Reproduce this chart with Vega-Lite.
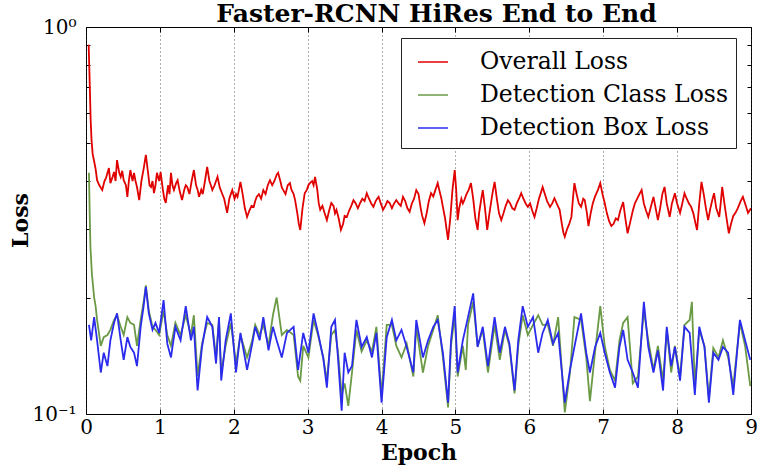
{
  "$schema": "https://vega.github.io/schema/vega-lite/v6.json",
  "width": 665,
  "height": 387,
  "autosize": {"type": "none"},
  "padding": {"left": 86, "top": 27, "right": 6, "bottom": 54},
  "background": "white",
  "title": {"text": "Faster-RCNN HiRes End to End", "font": "DejaVu Serif", "fontSize": 25, "fontWeight": "bold", "color": "black", "offset": -10, "anchor": "middle", "dx": 18},
  "config": {
    "view": {"stroke": "black", "strokeWidth": 1},
    "axis": {"labelFont": "DejaVu Serif", "labelFontSize": 20, "labelColor": "black", "titleFont": "DejaVu Serif", "titleFontSize": 22, "titleFontWeight": "bold", "titleColor": "black", "domain": false, "tickColor": "black", "tickWidth": 1}
  },
  "datasets": {
    "overall": [
      {"e":0.036,"v":0.9},{"e":0.045,"v":0.78},{"e":0.055,"v":0.66},{"e":0.063,"v":0.575},{"e":0.075,"v":0.51},{"e":0.09,"v":0.47},{"e":0.11,"v":0.45},{"e":0.13,"v":0.43},{"e":0.15,"v":0.402},{"e":0.18,"v":0.39},{"e":0.22,"v":0.379},{"e":0.25,"v":0.4},{"e":0.27,"v":0.407},{"e":0.31,"v":0.432},{"e":0.33,"v":0.395},{"e":0.36,"v":0.41},{"e":0.38,"v":0.422},{"e":0.4,"v":0.4},{"e":0.42,"v":0.453},{"e":0.45,"v":0.42},{"e":0.47,"v":0.41},{"e":0.49,"v":0.425},{"e":0.51,"v":0.402},{"e":0.54,"v":0.39},{"e":0.56,"v":0.364},{"e":0.58,"v":0.4},{"e":0.6,"v":0.427},{"e":0.63,"v":0.4},{"e":0.65,"v":0.42},{"e":0.67,"v":0.4},{"e":0.69,"v":0.386},{"e":0.72,"v":0.357},{"e":0.75,"v":0.4},{"e":0.78,"v":0.43},{"e":0.81,"v":0.467},{"e":0.84,"v":0.42},{"e":0.86,"v":0.39},{"e":0.88,"v":0.386},{"e":0.9,"v":0.4},{"e":0.92,"v":0.372},{"e":0.94,"v":0.39},{"e":0.96,"v":0.42},{"e":0.99,"v":0.4},{"e":1.01,"v":0.422},{"e":1.04,"v":0.38},{"e":1.06,"v":0.36},{"e":1.08,"v":0.351},{"e":1.11,"v":0.39},{"e":1.13,"v":0.37},{"e":1.15,"v":0.42},{"e":1.17,"v":0.39},{"e":1.19,"v":0.379},{"e":1.22,"v":0.395},{"e":1.24,"v":0.402},{"e":1.27,"v":0.375},{"e":1.3,"v":0.357},{"e":1.33,"v":0.38},{"e":1.35,"v":0.39},{"e":1.37,"v":0.386},{"e":1.4,"v":0.37},{"e":1.43,"v":0.4},{"e":1.46,"v":0.427},{"e":1.49,"v":0.39},{"e":1.51,"v":0.38},{"e":1.53,"v":0.364},{"e":1.56,"v":0.38},{"e":1.58,"v":0.37},{"e":1.61,"v":0.4},{"e":1.64,"v":0.435},{"e":1.67,"v":0.4},{"e":1.69,"v":0.39},{"e":1.71,"v":0.379},{"e":1.74,"v":0.39},{"e":1.76,"v":0.4},{"e":1.78,"v":0.41},{"e":1.81,"v":0.385},{"e":1.84,"v":0.372},{"e":1.87,"v":0.36},{"e":1.89,"v":0.345},{"e":1.91,"v":0.331},{"e":1.94,"v":0.36},{"e":1.96,"v":0.37},{"e":1.98,"v":0.379},{"e":2.01,"v":0.36},{"e":2.03,"v":0.37},{"e":2.05,"v":0.364},{"e":2.07,"v":0.38},{"e":2.09,"v":0.398},{"e":2.12,"v":0.37},{"e":2.15,"v":0.34},{"e":2.18,"v":0.323},{"e":2.21,"v":0.335},{"e":2.24,"v":0.345},{"e":2.27,"v":0.343},{"e":2.29,"v":0.355},{"e":2.31,"v":0.364},{"e":2.34,"v":0.37},{"e":2.37,"v":0.36},{"e":2.4,"v":0.379},{"e":2.43,"v":0.37},{"e":2.46,"v":0.39},{"e":2.49,"v":0.402},{"e":2.52,"v":0.39},{"e":2.55,"v":0.4},{"e":2.58,"v":0.415},{"e":2.6,"v":0.42},{"e":2.63,"v":0.4},{"e":2.65,"v":0.385},{"e":2.67,"v":0.379},{"e":2.7,"v":0.37},{"e":2.73,"v":0.39},{"e":2.76,"v":0.395},{"e":2.78,"v":0.38},{"e":2.81,"v":0.37},{"e":2.83,"v":0.357},{"e":2.86,"v":0.33},{"e":2.88,"v":0.31},{"e":2.9,"v":0.299},{"e":2.93,"v":0.34},{"e":2.96,"v":0.372},{"e":2.99,"v":0.38},{"e":3.01,"v":0.39},{"e":3.03,"v":0.395},{"e":3.06,"v":0.4},{"e":3.08,"v":0.39},{"e":3.1,"v":0.41},{"e":3.13,"v":0.38},{"e":3.15,"v":0.35},{"e":3.17,"v":0.337},{"e":3.2,"v":0.345},{"e":3.23,"v":0.33},{"e":3.26,"v":0.317},{"e":3.29,"v":0.335},{"e":3.32,"v":0.351},{"e":3.35,"v":0.345},{"e":3.37,"v":0.33},{"e":3.39,"v":0.337},{"e":3.42,"v":0.32},{"e":3.45,"v":0.299},{"e":3.48,"v":0.31},{"e":3.5,"v":0.325},{"e":3.53,"v":0.323},{"e":3.56,"v":0.335},{"e":3.59,"v":0.345},{"e":3.62,"v":0.357},{"e":3.65,"v":0.35},{"e":3.68,"v":0.34},{"e":3.71,"v":0.351},{"e":3.74,"v":0.36},{"e":3.77,"v":0.355},{"e":3.8,"v":0.372},{"e":3.83,"v":0.36},{"e":3.86,"v":0.35},{"e":3.89,"v":0.343},{"e":3.92,"v":0.355},{"e":3.94,"v":0.36},{"e":3.96,"v":0.364},{"e":3.99,"v":0.35},{"e":4.02,"v":0.337},{"e":4.05,"v":0.345},{"e":4.08,"v":0.355},{"e":4.11,"v":0.351},{"e":4.14,"v":0.34},{"e":4.17,"v":0.35},{"e":4.2,"v":0.357},{"e":4.23,"v":0.35},{"e":4.26,"v":0.345},{"e":4.29,"v":0.364},{"e":4.32,"v":0.355},{"e":4.35,"v":0.34},{"e":4.38,"v":0.333},{"e":4.41,"v":0.35},{"e":4.44,"v":0.36},{"e":4.47,"v":0.379},{"e":4.5,"v":0.37},{"e":4.53,"v":0.34},{"e":4.55,"v":0.325},{"e":4.58,"v":0.311},{"e":4.61,"v":0.33},{"e":4.64,"v":0.355},{"e":4.67,"v":0.372},{"e":4.7,"v":0.365},{"e":4.73,"v":0.38},{"e":4.76,"v":0.395},{"e":4.78,"v":0.38},{"e":4.81,"v":0.36},{"e":4.83,"v":0.343},{"e":4.86,"v":0.32},{"e":4.88,"v":0.3},{"e":4.9,"v":0.282},{"e":4.93,"v":0.32},{"e":4.96,"v":0.38},{"e":4.99,"v":0.427},{"e":5.01,"v":0.38},{"e":5.03,"v":0.317},{"e":5.05,"v":0.34},{"e":5.08,"v":0.36},{"e":5.1,"v":0.35},{"e":5.12,"v":0.357},{"e":5.15,"v":0.37},{"e":5.18,"v":0.38},{"e":5.21,"v":0.395},{"e":5.24,"v":0.36},{"e":5.27,"v":0.32},{"e":5.3,"v":0.299},{"e":5.32,"v":0.33},{"e":5.35,"v":0.36},{"e":5.37,"v":0.379},{"e":5.4,"v":0.34},{"e":5.43,"v":0.299},{"e":5.46,"v":0.33},{"e":5.49,"v":0.36},{"e":5.51,"v":0.38},{"e":5.53,"v":0.398},{"e":5.56,"v":0.36},{"e":5.59,"v":0.33},{"e":5.62,"v":0.317},{"e":5.65,"v":0.33},{"e":5.68,"v":0.345},{"e":5.71,"v":0.357},{"e":5.74,"v":0.35},{"e":5.77,"v":0.34},{"e":5.8,"v":0.337},{"e":5.83,"v":0.35},{"e":5.86,"v":0.36},{"e":5.89,"v":0.372},{"e":5.92,"v":0.36},{"e":5.95,"v":0.35},{"e":5.98,"v":0.343},{"e":6.01,"v":0.35},{"e":6.04,"v":0.335},{"e":6.07,"v":0.323},{"e":6.1,"v":0.34},{"e":6.13,"v":0.36},{"e":6.16,"v":0.375},{"e":6.18,"v":0.386},{"e":6.21,"v":0.37},{"e":6.24,"v":0.355},{"e":6.28,"v":0.343},{"e":6.31,"v":0.35},{"e":6.34,"v":0.361},{"e":6.37,"v":0.35},{"e":6.41,"v":0.337},{"e":6.44,"v":0.31},{"e":6.46,"v":0.295},{"e":6.48,"v":0.287},{"e":6.51,"v":0.3},{"e":6.54,"v":0.31},{"e":6.57,"v":0.323},{"e":6.59,"v":0.36},{"e":6.61,"v":0.395},{"e":6.64,"v":0.37},{"e":6.67,"v":0.35},{"e":6.7,"v":0.343},{"e":6.73,"v":0.36},{"e":6.75,"v":0.357},{"e":6.78,"v":0.33},{"e":6.8,"v":0.306},{"e":6.83,"v":0.33},{"e":6.86,"v":0.351},{"e":6.89,"v":0.365},{"e":6.93,"v":0.38},{"e":6.96,"v":0.395},{"e":6.99,"v":0.37},{"e":7.02,"v":0.351},{"e":7.05,"v":0.33},{"e":7.08,"v":0.315},{"e":7.11,"v":0.306},{"e":7.14,"v":0.31},{"e":7.17,"v":0.32},{"e":7.2,"v":0.317},{"e":7.23,"v":0.335},{"e":7.27,"v":0.353},{"e":7.3,"v":0.32},{"e":7.33,"v":0.293},{"e":7.36,"v":0.31},{"e":7.4,"v":0.335},{"e":7.43,"v":0.351},{"e":7.46,"v":0.36},{"e":7.49,"v":0.37},{"e":7.52,"v":0.379},{"e":7.55,"v":0.35},{"e":7.58,"v":0.335},{"e":7.61,"v":0.323},{"e":7.64,"v":0.34},{"e":7.68,"v":0.364},{"e":7.71,"v":0.34},{"e":7.74,"v":0.317},{"e":7.77,"v":0.34},{"e":7.8,"v":0.37},{"e":7.83,"v":0.386},{"e":7.86,"v":0.35},{"e":7.9,"v":0.323},{"e":7.93,"v":0.35},{"e":7.97,"v":0.372},{"e":8.0,"v":0.35},{"e":8.04,"v":0.331},{"e":8.07,"v":0.35},{"e":8.1,"v":0.372},{"e":8.13,"v":0.36},{"e":8.16,"v":0.35},{"e":8.19,"v":0.343},{"e":8.22,"v":0.33},{"e":8.25,"v":0.31},{"e":8.27,"v":0.299},{"e":8.3,"v":0.35},{"e":8.33,"v":0.398},{"e":8.36,"v":0.37},{"e":8.39,"v":0.34},{"e":8.42,"v":0.317},{"e":8.45,"v":0.34},{"e":8.48,"v":0.36},{"e":8.5,"v":0.372},{"e":8.53,"v":0.34},{"e":8.57,"v":0.323},{"e":8.59,"v":0.35},{"e":8.61,"v":0.386},{"e":8.64,"v":0.35},{"e":8.67,"v":0.32},{"e":8.7,"v":0.293},{"e":8.73,"v":0.31},{"e":8.76,"v":0.325},{"e":8.79,"v":0.331},{"e":8.82,"v":0.34},{"e":8.86,"v":0.355},{"e":8.89,"v":0.364},{"e":8.92,"v":0.35},{"e":8.96,"v":0.331},{"e":9.0,"v":0.34}
    ],
    "cls": [
      {"e":0.04,"v":0.42},{"e":0.05,"v":0.33},{"e":0.06,"v":0.27},{"e":0.08,"v":0.23},{"e":0.11,"v":0.2},{"e":0.13,"v":0.19},{"e":0.15,"v":0.175},{"e":0.2,"v":0.15},{"e":0.24,"v":0.158},{"e":0.29,"v":0.16},{"e":0.33,"v":0.165},{"e":0.38,"v":0.175},{"e":0.42,"v":0.18},{"e":0.47,"v":0.168},{"e":0.51,"v":0.16},{"e":0.56,"v":0.178},{"e":0.6,"v":0.172},{"e":0.65,"v":0.17},{"e":0.69,"v":0.15},{"e":0.74,"v":0.175},{"e":0.78,"v":0.195},{"e":0.81,"v":0.215},{"e":0.85,"v":0.185},{"e":0.9,"v":0.168},{"e":0.94,"v":0.165},{"e":0.99,"v":0.16},{"e":1.05,"v":0.185},{"e":1.1,"v":0.16},{"e":1.15,"v":0.15},{"e":1.21,"v":0.172},{"e":1.28,"v":0.16},{"e":1.35,"v":0.18},{"e":1.42,"v":0.16},{"e":1.46,"v":0.18},{"e":1.51,"v":0.125},{"e":1.57,"v":0.152},{"e":1.64,"v":0.172},{"e":1.71,"v":0.17},{"e":1.76,"v":0.14},{"e":1.8,"v":0.175},{"e":1.83,"v":0.128},{"e":1.89,"v":0.15},{"e":1.96,"v":0.172},{"e":2.03,"v":0.135},{"e":2.09,"v":0.16},{"e":2.18,"v":0.14},{"e":2.25,"v":0.155},{"e":2.29,"v":0.17},{"e":2.35,"v":0.16},{"e":2.4,"v":0.17},{"e":2.47,"v":0.15},{"e":2.53,"v":0.18},{"e":2.58,"v":0.2},{"e":2.65,"v":0.16},{"e":2.72,"v":0.165},{"e":2.81,"v":0.16},{"e":2.87,"v":0.125},{"e":2.9,"v":0.122},{"e":2.94,"v":0.15},{"e":3.01,"v":0.14},{"e":3.08,"v":0.175},{"e":3.14,"v":0.16},{"e":3.21,"v":0.14},{"e":3.26,"v":0.122},{"e":3.32,"v":0.16},{"e":3.37,"v":0.165},{"e":3.41,"v":0.145},{"e":3.46,"v":0.112},{"e":3.5,"v":0.12},{"e":3.55,"v":0.105},{"e":3.6,"v":0.128},{"e":3.66,"v":0.165},{"e":3.73,"v":0.145},{"e":3.8,"v":0.155},{"e":3.87,"v":0.145},{"e":3.93,"v":0.168},{"e":4.0,"v":0.112},{"e":4.07,"v":0.17},{"e":4.14,"v":0.17},{"e":4.2,"v":0.15},{"e":4.27,"v":0.14},{"e":4.34,"v":0.152},{"e":4.43,"v":0.125},{"e":4.47,"v":0.168},{"e":4.56,"v":0.128},{"e":4.63,"v":0.15},{"e":4.7,"v":0.165},{"e":4.76,"v":0.18},{"e":4.83,"v":0.14},{"e":4.9,"v":0.104},{"e":4.94,"v":0.15},{"e":4.99,"v":0.18},{"e":5.03,"v":0.125},{"e":5.1,"v":0.15},{"e":5.14,"v":0.13},{"e":5.17,"v":0.17},{"e":5.24,"v":0.195},{"e":5.3,"v":0.15},{"e":5.37,"v":0.165},{"e":5.44,"v":0.128},{"e":5.53,"v":0.17},{"e":5.6,"v":0.138},{"e":5.67,"v":0.165},{"e":5.73,"v":0.15},{"e":5.8,"v":0.113},{"e":5.85,"v":0.15},{"e":5.91,"v":0.18},{"e":5.98,"v":0.16},{"e":6.05,"v":0.17},{"e":6.12,"v":0.18},{"e":6.18,"v":0.17},{"e":6.25,"v":0.17},{"e":6.32,"v":0.15},{"e":6.39,"v":0.178},{"e":6.48,"v":0.101},{"e":6.55,"v":0.128},{"e":6.61,"v":0.178},{"e":6.7,"v":0.175},{"e":6.77,"v":0.14},{"e":6.82,"v":0.108},{"e":6.89,"v":0.145},{"e":6.96,"v":0.19},{"e":7.02,"v":0.15},{"e":7.09,"v":0.13},{"e":7.16,"v":0.122},{"e":7.22,"v":0.155},{"e":7.27,"v":0.172},{"e":7.33,"v":0.178},{"e":7.4,"v":0.12},{"e":7.47,"v":0.125},{"e":7.55,"v":0.185},{"e":7.61,"v":0.155},{"e":7.68,"v":0.13},{"e":7.74,"v":0.15},{"e":7.81,"v":0.122},{"e":7.86,"v":0.165},{"e":7.92,"v":0.128},{"e":7.97,"v":0.15},{"e":8.04,"v":0.125},{"e":8.1,"v":0.17},{"e":8.17,"v":0.175},{"e":8.2,"v":0.195},{"e":8.24,"v":0.118},{"e":8.3,"v":0.165},{"e":8.37,"v":0.15},{"e":8.43,"v":0.11},{"e":8.49,"v":0.148},{"e":8.56,"v":0.14},{"e":8.62,"v":0.155},{"e":8.69,"v":0.14},{"e":8.76,"v":0.118},{"e":8.85,"v":0.172},{"e":8.92,"v":0.15},{"e":8.99,"v":0.118}
    ],
    "box": [
      {"e":0.04,"v":0.17},{"e":0.07,"v":0.155},{"e":0.11,"v":0.178},{"e":0.15,"v":0.155},{"e":0.2,"v":0.128},{"e":0.24,"v":0.144},{"e":0.29,"v":0.133},{"e":0.33,"v":0.155},{"e":0.38,"v":0.172},{"e":0.42,"v":0.182},{"e":0.47,"v":0.155},{"e":0.51,"v":0.138},{"e":0.56,"v":0.158},{"e":0.6,"v":0.149},{"e":0.65,"v":0.144},{"e":0.69,"v":0.133},{"e":0.74,"v":0.168},{"e":0.78,"v":0.19},{"e":0.81,"v":0.213},{"e":0.85,"v":0.182},{"e":0.9,"v":0.165},{"e":0.94,"v":0.172},{"e":0.99,"v":0.162},{"e":1.05,"v":0.197},{"e":1.1,"v":0.152},{"e":1.15,"v":0.14},{"e":1.21,"v":0.168},{"e":1.28,"v":0.155},{"e":1.35,"v":0.19},{"e":1.42,"v":0.155},{"e":1.46,"v":0.168},{"e":1.51,"v":0.115},{"e":1.57,"v":0.149},{"e":1.64,"v":0.178},{"e":1.71,"v":0.168},{"e":1.76,"v":0.135},{"e":1.8,"v":0.178},{"e":1.83,"v":0.122},{"e":1.89,"v":0.155},{"e":1.96,"v":0.182},{"e":2.03,"v":0.128},{"e":2.09,"v":0.162},{"e":2.18,"v":0.13},{"e":2.25,"v":0.152},{"e":2.29,"v":0.168},{"e":2.35,"v":0.155},{"e":2.4,"v":0.178},{"e":2.47,"v":0.146},{"e":2.53,"v":0.168},{"e":2.58,"v":0.155},{"e":2.65,"v":0.14},{"e":2.72,"v":0.162},{"e":2.81,"v":0.168},{"e":2.87,"v":0.13},{"e":2.94,"v":0.162},{"e":3.01,"v":0.144},{"e":3.08,"v":0.182},{"e":3.14,"v":0.162},{"e":3.21,"v":0.14},{"e":3.26,"v":0.117},{"e":3.32,"v":0.168},{"e":3.37,"v":0.175},{"e":3.41,"v":0.14},{"e":3.46,"v":0.102},{"e":3.5,"v":0.144},{"e":3.55,"v":0.128},{"e":3.6,"v":0.133},{"e":3.66,"v":0.175},{"e":3.73,"v":0.149},{"e":3.8,"v":0.158},{"e":3.87,"v":0.14},{"e":3.93,"v":0.162},{"e":4.0,"v":0.107},{"e":4.07,"v":0.158},{"e":4.14,"v":0.175},{"e":4.2,"v":0.155},{"e":4.27,"v":0.165},{"e":4.34,"v":0.149},{"e":4.43,"v":0.128},{"e":4.47,"v":0.175},{"e":4.56,"v":0.14},{"e":4.63,"v":0.155},{"e":4.7,"v":0.168},{"e":4.76,"v":0.175},{"e":4.83,"v":0.144},{"e":4.9,"v":0.107},{"e":4.94,"v":0.155},{"e":4.99,"v":0.19},{"e":5.03,"v":0.128},{"e":5.1,"v":0.155},{"e":5.17,"v":0.178},{"e":5.24,"v":0.205},{"e":5.3,"v":0.149},{"e":5.37,"v":0.168},{"e":5.44,"v":0.133},{"e":5.53,"v":0.178},{"e":5.6,"v":0.144},{"e":5.67,"v":0.168},{"e":5.73,"v":0.152},{"e":5.8,"v":0.115},{"e":5.85,"v":0.155},{"e":5.91,"v":0.19},{"e":5.98,"v":0.168},{"e":6.05,"v":0.178},{"e":6.12,"v":0.144},{"e":6.18,"v":0.162},{"e":6.25,"v":0.175},{"e":6.32,"v":0.152},{"e":6.39,"v":0.162},{"e":6.48,"v":0.107},{"e":6.55,"v":0.13},{"e":6.61,"v":0.149},{"e":6.7,"v":0.182},{"e":6.77,"v":0.144},{"e":6.82,"v":0.128},{"e":6.89,"v":0.149},{"e":6.96,"v":0.162},{"e":7.02,"v":0.144},{"e":7.09,"v":0.128},{"e":7.16,"v":0.117},{"e":7.22,"v":0.149},{"e":7.27,"v":0.165},{"e":7.33,"v":0.138},{"e":7.4,"v":0.128},{"e":7.47,"v":0.117},{"e":7.55,"v":0.195},{"e":7.61,"v":0.149},{"e":7.68,"v":0.128},{"e":7.74,"v":0.146},{"e":7.81,"v":0.115},{"e":7.86,"v":0.168},{"e":7.92,"v":0.133},{"e":7.97,"v":0.149},{"e":8.04,"v":0.122},{"e":8.1,"v":0.168},{"e":8.17,"v":0.162},{"e":8.24,"v":0.112},{"e":8.3,"v":0.168},{"e":8.37,"v":0.149},{"e":8.43,"v":0.107},{"e":8.49,"v":0.144},{"e":8.56,"v":0.138},{"e":8.62,"v":0.149},{"e":8.69,"v":0.144},{"e":8.76,"v":0.112},{"e":8.85,"v":0.175},{"e":8.92,"v":0.155},{"e":8.99,"v":0.138}
    ]
  },
  "layer": [
    {
      "data": {"name": "overall"},
      "mark": {"type": "line", "strokeWidth": 1.8, "clip": true},
      "encoding": {
        "x": {"field": "e", "type": "quantitative", "scale": {"domain": [0, 9], "nice": false, "zero": false},
          "axis": {"orient": "bottom", "title": "Epoch", "values": [0,1,2,3,4,5,6,7,8,9], "format": "d", "labelFlush": false, "grid": true, "gridDash": [1, 3], "gridColor": "#333333", "gridOpacity": 0.8, "tickSize": -5, "labelPadding": 8, "titleY": 45, "titleBaseline": "alphabetic"}},
        "y": {"field": "v", "type": "quantitative", "scale": {"type": "log", "domain": [0.1, 1], "nice": false},
          "axis": {"orient": "left", "title": "Loss", "values": [0.1,0.2,0.3,0.4,0.5,0.6,0.7,0.8,0.9,1], "labelExpr": "datum.value == 1 ? '10⁰' : (datum.value == 0.1 ? '10⁻¹' : '')", "labelFlush": false, "grid": false, "tickSize": -4, "labelPadding": 14, "titleX": -66, "titleY": 193, "titleAngle": 270, "titleAlign": "center", "titleBaseline": "middle"}},
        "color": {"datum": "Overall Loss", "type": "nominal",
          "scale": {"domain": ["Overall Loss", "Detection Class Loss", "Detection Box Loss"], "range": ["#e00000", "#6a9a45", "#2b2bee"]},
          "legend": {"orient": "none", "legendX": 315, "legendY": 11, "title": null, "symbolType": "stroke", "symbolSize": 900, "symbolStrokeWidth": 1.5, "symbolOffset": 8, "labelFont": "DejaVu Serif", "labelFontSize": 23.5, "labelColor": "black", "labelOffset": 31, "rowPadding": 5, "padding": 8, "strokeColor": "#222222", "fillColor": "white", "cornerRadius": 0, "labelLimit": 400}}
      }
    },
    {
      "data": {"name": "cls"},
      "mark": {"type": "line", "strokeWidth": 1.8, "clip": true},
      "encoding": {
        "x": {"field": "e", "type": "quantitative", "axis": {"orient": "top", "title": null, "labels": false, "grid": false, "tickSize": -5, "values": [0,1,2,3,4,5,6,7,8,9]}},
        "y": {"field": "v", "type": "quantitative", "axis": {"orient": "right", "title": null, "labels": false, "grid": false, "tickSize": -4, "values": [0.1,0.2,0.3,0.4,0.5,0.6,0.7,0.8,0.9,1]}},
        "color": {"datum": "Detection Class Loss", "type": "nominal"}
      }
    },
    {
      "data": {"name": "box"},
      "mark": {"type": "line", "strokeWidth": 1.8, "clip": true},
      "encoding": {
        "x": {"field": "e", "type": "quantitative", "axis": null},
        "y": {"field": "v", "type": "quantitative", "axis": null},
        "color": {"datum": "Detection Box Loss", "type": "nominal"}
      }
    }
  ],
  "resolve": {"axis": {"x": "independent", "y": "independent"}}
}
